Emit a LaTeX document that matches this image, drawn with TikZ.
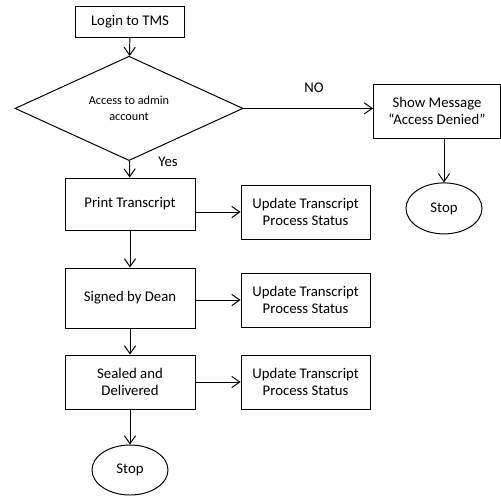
\documentclass[tikz,border=0pt]{standalone}
\usepackage{fontspec}
\setmainfont{Carlito}
\usetikzlibrary{shapes.geometric,arrows.meta}
\begin{document}
\begin{tikzpicture}[
  % Box styles
  procbox/.style={rectangle, draw=black, fill=white, minimum width=3.25cm,
    align=center, font=\fontsize{10.5}{12.5}\selectfont, line width=0.7pt},
  updbox/.style={rectangle, draw=black, fill=white, minimum width=3.225cm,
    minimum height=1.35cm, align=center, font=\fontsize{10.5}{12.5}\selectfont,
    line width=0.7pt},
  decide/.style={diamond, draw=black, fill=white, minimum width=5.7cm,
    minimum height=2.175cm, inner sep=0pt, align=center,
    font=\fontsize{8.7}{11}\selectfont, line width=0.7pt},
  endnode/.style={ellipse, draw=black, fill=white, minimum width=1.9cm,
    minimum height=1.26cm, font=\fontsize{10.5}{12.5}\selectfont, line width=0.7pt},
  % Arrow style
  flow/.style={-{Straight Barb[length=2mm,width=2.8mm]}, line width=0.7pt},
  % Label style
  lbl/.style={font=\fontsize{10.5}{12.5}\selectfont},
]

% Horizontal positions
\def\maincol{3.25}
\def\updcol{7.64}
\def\rightcol{10.925}

\useasboundingbox (0,0) rectangle (12.525,-12.375);

% --- Main column ---
\node[procbox, minimum height=0.775cm, minimum width=2.725cm] (login) at (\maincol,-0.54) {Login to TMS};
\node[decide] (access) at (3.225,-2.71) {Access to admin\\account};
\node[procbox, minimum height=1.3cm] (print) at (\maincol,-5.1) {Print Transcript};
\node[procbox, minimum height=1.5cm] (signed) at (\maincol,-7.45) {Signed by Dean};
\node[procbox, minimum height=1.35cm] (sealed) at (\maincol,-9.55) {Sealed and\\Delivered};
\node[endnode, minimum height=1.25cm] (stopa) at (\maincol,-11.75) {Stop};

% --- Update column ---
\node[updbox] (upd1) at (\updcol,-5.3) {Update Transcript\\Process Status};
\node[updbox] (upd2) at (\updcol,-7.5) {Update Transcript\\Process Status};
\node[updbox] (upd3) at (\updcol,-9.55) {Update Transcript\\Process Status};

% --- Denied branch ---
\node[updbox, minimum width=3.175cm] (denied) at (\rightcol,-2.775) {Show Message\\``Access Denied''};
\node[endnode, minimum height=1.275cm] (stopb) at (11.1,-5.21) {Stop};

% Connectors
\draw[flow] (login) -- (access);
\draw[flow] (access) -- (print);
\draw[flow] (print) -- (signed);
\draw[flow] (signed) -- (sealed);
\draw[flow] (sealed) -- (stopa);
\draw[flow] (print.east |- upd1) -- (upd1);
\draw[flow] (signed.east |- upd2) -- (upd2);
\draw[flow] (sealed) -- (upd3);
\draw[flow] (access.east) -- (access.east -| denied.west);
\draw[flow] (denied.south -| stopb) -- (stopb);

% Branch labels
\node[lbl] (nolbl) at (7.85,-2.2) {NO};
\node[lbl] (yeslbl) at (4.2,-4.05) {Yes};

\end{tikzpicture}
\end{document}
